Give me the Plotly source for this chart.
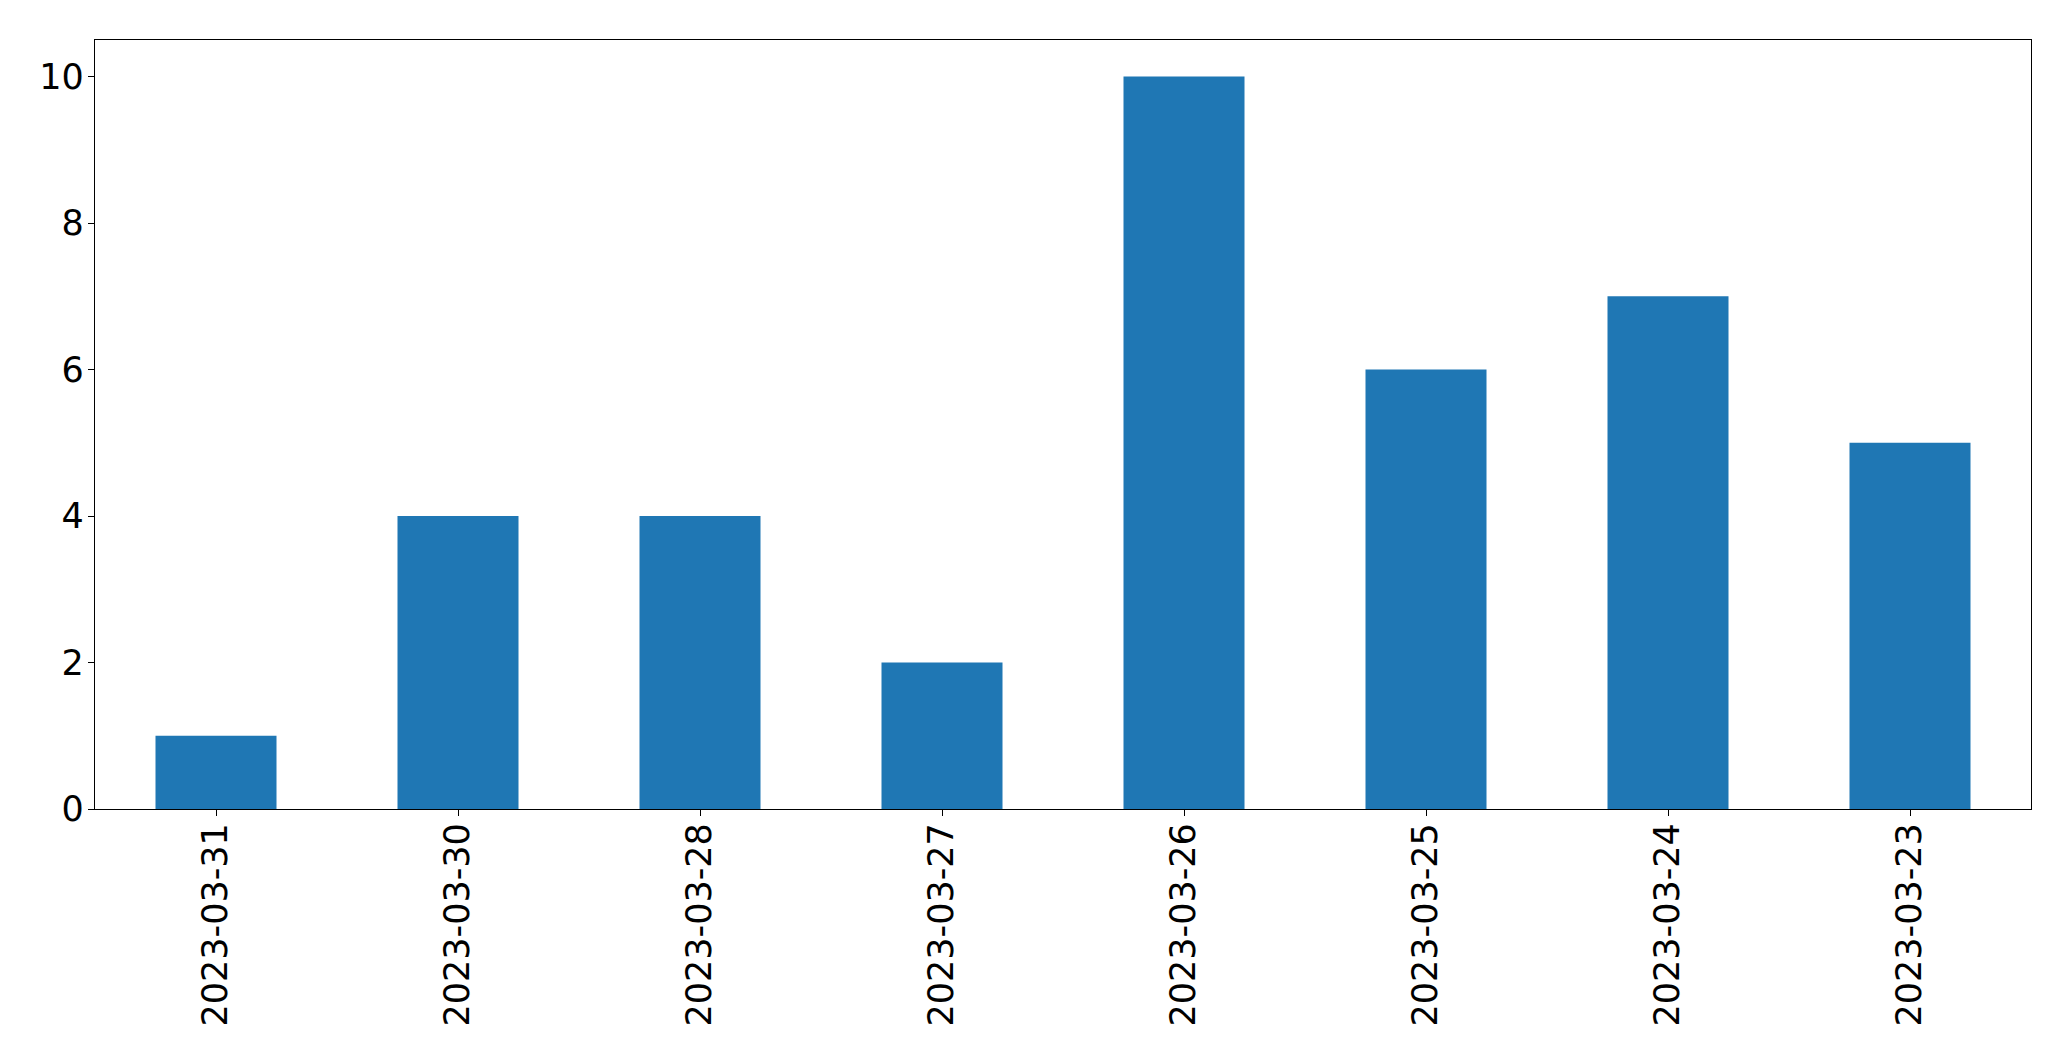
import plotly.graph_objects as go

dates = ["2023-03-31", "2023-03-30", "2023-03-28", "2023-03-27",
         "2023-03-26", "2023-03-25", "2023-03-24", "2023-03-23"]
counts = [1, 4, 4, 2, 10, 6, 7, 5]
y_ticks = [0, 2, 4, 6, 8, 10]

fig = go.Figure(go.Bar(x=dates, y=counts, marker_color="#1f77b4",
                       marker_line_width=0))

# page body has an 8px default margin; compensate
font = dict(family="DejaVu Sans", size=35, color="black")
fig.update_layout(
    width=2055, height=1045,
    margin=dict(l=86.5, r=31.5, t=31.5, b=244, autoexpand=False),
    paper_bgcolor="white", plot_bgcolor="white",
    bargap=0.5, showlegend=False, font=font,
)
fig.update_xaxes(type="category", range=[-0.5, 7.5], tickangle=-90,
                 showline=True, linecolor="black", linewidth=1.3, mirror=True,
                 ticks="outside", ticklen=6, tickwidth=1.3, tickcolor="black",
                 ticklabelstandoff=-7,
                 showgrid=False, zeroline=False, tickfont=font)
fig.update_yaxes(range=[0, 10.5], tickvals=y_ticks,
                 showline=True, linecolor="black", linewidth=1.3, mirror=True,
                 ticks="outside", ticklen=6, tickwidth=1.3, tickcolor="black",
                 ticklabelstandoff=-3,
                 showgrid=False, zeroline=False, tickfont=font)

fig.write_html("out.html")
